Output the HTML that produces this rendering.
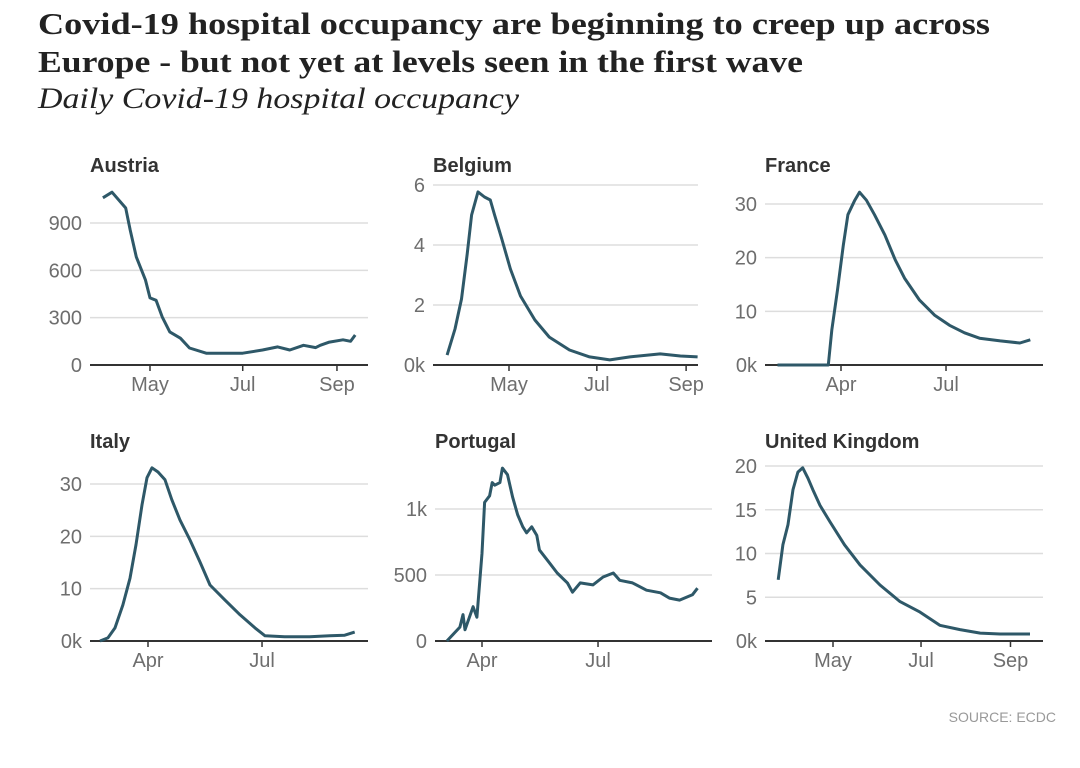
<!DOCTYPE html>
<html><head><meta charset="utf-8">
<style>
body{margin:0;background:#fff;width:1080px;height:763px;overflow:hidden;}
svg text{font-family:"Liberation Sans",sans-serif;}
.h1{font-family:"Liberation Serif",serif;font-weight:bold;font-size:31px;fill:#222;}
.sub{font-family:"Liberation Serif",serif;font-style:italic;font-size:30px;fill:#222;}
.pt{font-weight:bold;font-size:20px;fill:#333;}
.tk{font-size:20px;fill:#6e6e6e;}
</style></head><body>
<svg id="chart" width="1080" height="763">
<text class="h1" x="38" y="34" textLength="952" lengthAdjust="spacingAndGlyphs">Covid-19 hospital occupancy are beginning to creep up across</text>
<text class="h1" x="38" y="72" textLength="765" lengthAdjust="spacingAndGlyphs">Europe - but not yet at levels seen in the first wave</text>
<text class="sub" x="38" y="108" textLength="481" lengthAdjust="spacingAndGlyphs">Daily Covid-19 hospital occupancy</text>
<text class="tk" x="1056" y="722" text-anchor="end" style="font-size:14px;fill:#999">SOURCE: ECDC</text>
</svg>
<script>
// data: day-of-year 2020 and values
const austriaDays=[90,96,105,108,112,118,121,125,129,134,141,147,158,174,182,195,205,213,222,230,233,239,248,253,256];
const austriaVals=[1060,1095,995,855,685,540,425,410,305,210,170,108,75,75,75,95,115,95,125,110,125,145,160,150,190];
const belgiumDays=[78,83.5,88,92,95,99.5,104,108,111,116,122,129,139,149,163,177,191,205,226,240,252];
const belgiumVals=[0.33,1.2,2.2,3.7,5.0,5.77,5.6,5.5,5.0,4.2,3.2,2.3,1.5,0.93,0.5,0.27,0.17,0.27,0.37,0.3,0.27];
const franceDays=[36,80,83,88,93,97,103,107,113,120,129,138,146,159,172,185,198,211,229,246,255];
const franceVals=[0,0,6.5,14,22.3,28,30.7,32.2,30.7,28,24.2,19.6,16.2,12.1,9.3,7.4,6,5,4.5,4.1,4.7];
const italyDays=[52.7,59,64.7,71,76.6,81.4,86.2,90.2,94.2,99,104.6,110,116.5,124.5,132.5,140.5,152.5,164.4,176.4,184.4,200,220,236,248,256];
const italyVals=[0,0.6,2.5,6.9,12,18.4,26,31.2,33.1,32.3,30.8,27,23.1,19.3,15.1,10.7,7.8,5,2.5,1,0.8,0.8,1,1.1,1.7];
const portugalDays=[63.5,73.7,76.1,77.7,84,87,91,93,97,99,101,105,107,111,115,119,123,126,130,134,136,144,150,158,162,168,178,186,194,199,209,220,231,238,246,256,260];
const portugalVals=[0,105,200,85,260,180,665,1050,1100,1200,1180,1200,1310,1260,1090,955,865,820,865,800,690,590,515,440,370,440,425,485,515,460,440,385,365,325,310,350,400];
const ukDays=[83,86.3,89.8,93.3,96.7,100,103.7,107,112,119,129,139.7,153.6,167.4,181.3,195,209,223,236.7,257.5];
const ukVals=[7,11,13.3,17.3,19.3,19.8,18.6,17.3,15.5,13.6,11,8.7,6.4,4.5,3.3,1.8,1.3,0.9,0.8,0.8];
const austriaTicks=[0,300,600,900], austriaTickLabels=["0","300","600","900"];
const belgiumTicks=[0,2,4,6], belgiumTickLabels=["0k","2","4","6"];
const franceTicks=[0,10,20,30], franceTickLabels=["0k","10","20","30"];
const italyTicks=[0,10,20,30], italyTickLabels=["0k","10","20","30"];
const portugalTicks=[0,500,1000], portugalTickLabels=["0","500","1k"];
const ukTicks=[0,5,10,15,20], ukTickLabels=["0k","5","10","15","20"];
const monthDays={Apr:91,May:121,Jul:182,Sep:244};

const panels=[
 {name:"Austria",id:"austria",d:austriaDays,v:austriaVals,t:austriaTicks,tl:austriaTickLabels,L:90,R:368,B:365,yTop:223,vTop:900,xa:121,pa:150,ppd:1.52,months:["May","Jul","Sep"]},
 {name:"Belgium",id:"belgium",d:belgiumDays,v:belgiumVals,t:belgiumTicks,tl:belgiumTickLabels,L:433,R:698,B:365,yTop:185,vTop:6,xa:121,pa:509,ppd:1.44,months:["May","Jul","Sep"]},
 {name:"France",id:"france",d:franceDays,v:franceVals,t:franceTicks,tl:franceTickLabels,L:765,R:1043,B:365,yTop:204,vTop:30,xa:91,pa:841,ppd:1.154,months:["Apr","Jul"]},
 {name:"Italy",id:"italy",d:italyDays,v:italyVals,t:italyTicks,tl:italyTickLabels,L:90,R:368,B:641,yTop:484,vTop:30,xa:91,pa:148,ppd:1.253,months:["Apr","Jul"]},
 {name:"Portugal",id:"portugal",d:portugalDays,v:portugalVals,t:portugalTicks,tl:portugalTickLabels,L:435,R:712,B:641,yTop:509,vTop:1000,xa:91,pa:482,ppd:1.275,months:["Apr","Jul"]},
 {name:"United Kingdom",id:"uk",d:ukDays,v:ukVals,t:ukTicks,tl:ukTickLabels,L:765,R:1043,B:641,yTop:466,vTop:20,xa:121,pa:833,ppd:1.443,months:["May","Jul","Sep"]}
];
const svg=document.getElementById('chart');
const NS="http://www.w3.org/2000/svg";
function mk(tag,attrs,parent){const e=document.createElementNS(NS,tag);for(const k in attrs)e.setAttribute(k,attrs[k]);parent.appendChild(e);return e;}
panels.forEach(p=>{
 const g=mk('g',{},svg);
 
 
 const x=d=>p.pa+(d-p.xa)*p.ppd;
 const y=v=>p.B-(v/p.vTop)*(p.B-p.yTop);
 const t=mk('text',{x:p.L,y:p.B-193,class:'pt'},g);
 t.textContent=p.name;
 
 
 p.t.forEach((tv,i)=>{
  if(tv>0){const gl=mk('line',{x1:p.L,x2:p.R,y1:y(tv),y2:y(tv),stroke:'#ddd','stroke-width':1.5},g);
   
   }
  const lb=mk('text',{x:p.L-8,y:y(tv)+7,'text-anchor':'end',class:'tk'},g);
  lb.textContent=p.tl[i];
  
  
 });
 const ax=mk('line',{x1:p.L,x2:p.R,y1:p.B,y2:p.B,stroke:'#333','stroke-width':2},g);
 
 
 p.months.forEach(m=>{
  const xx=x(monthDays[m]);
  const tk=mk('line',{x1:xx,x2:xx,y1:p.B,y2:p.B+6,stroke:'#333','stroke-width':1.5},g);
  
  
  const lb=mk('text',{x:xx,y:p.B+26,'text-anchor':'middle',class:'tk'},g);
  lb.textContent=m;
  
  
 });
 const pts=p.d.map((d,i)=>x(d).toFixed(1)+','+y(p.v[i]).toFixed(1)).join(' ');
 const ln=mk('polyline',{points:pts,fill:'none',stroke:'#2e5868','stroke-width':3,'stroke-linejoin':'round'},g);
 
 
});
</script>
</body></html>
